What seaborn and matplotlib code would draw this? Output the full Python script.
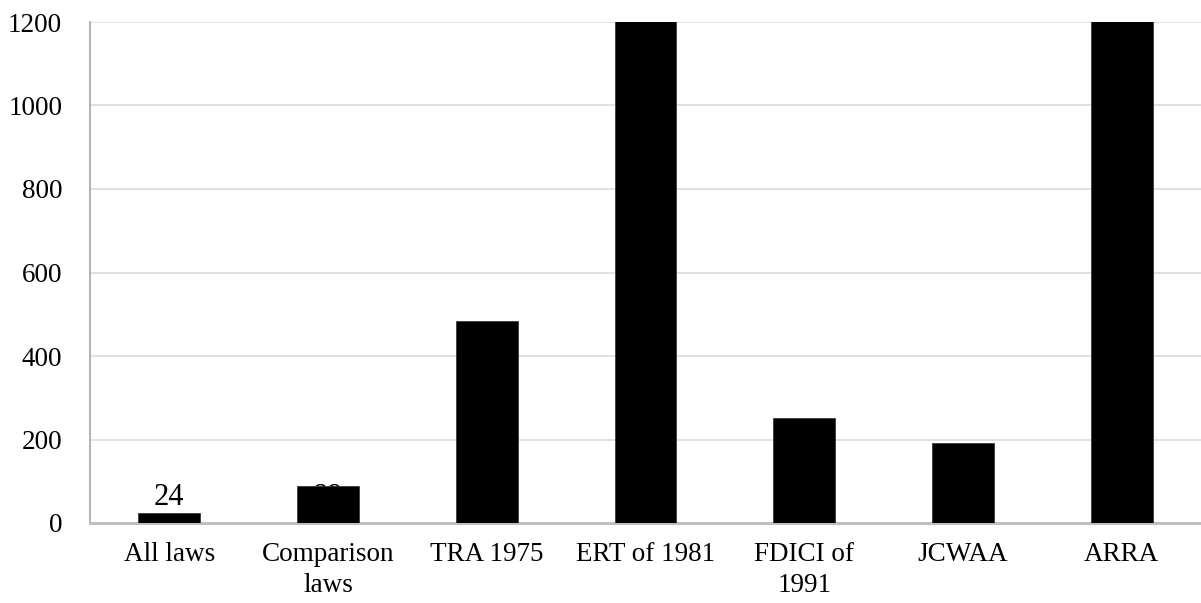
import matplotlib
matplotlib.use("Agg")
import matplotlib.pyplot as plt
import seaborn as sns
import pandas as pd

# Data
categories = ["All laws", "Comparison\nlaws", "TRA 1975", "ERT of 1981",
              "FDICI of\n1991", "JCWAA", "ARRA"]
values = [24, 89, 484, 1350, 251, 192, 1300]
value_labels = ["24", "89"]          # labels drawn for the first two bars
y_ticks = [0, 200, 400, 600, 800, 1000, 1200]

sns.set_theme(style="white")
plt.rcParams["font.family"] = ["Liberation Serif", "DejaVu Serif"]

fig = plt.figure(figsize=(12.01, 6.03), dpi=100)
ax = fig.add_axes([90 / 1201, 80 / 603, 1 - 90 / 1201, (523 - 22) / 603])

df = pd.DataFrame({"category": categories, "value": values})
sns.barplot(data=df, x="category", y="value", color="black", width=0.39,
            saturation=1, ax=ax, zorder=3, edgecolor="#3a3a3a", linewidth=0.6)

ax.set_xlim(-0.5, len(categories) - 0.5)
ax.set_ylim(0, 1200)
ax.set_yticks(y_ticks)
ax.set_yticklabels([str(t) for t in y_ticks])
ax.grid(axis="y", color="#dcdcdc", linewidth=1.2, zorder=0)
ax.set_axisbelow(True)

for side in ["top", "right"]:
    ax.spines[side].set_visible(False)
ax.spines["left"].set_color("#a6a6a6")
ax.spines["left"].set_linewidth(1.2)
ax.spines["bottom"].set_color("#bfbfbf")
ax.spines["bottom"].set_linewidth(2.2)

ax.tick_params(axis="both", length=0, labelsize=19.5, colors="black")
ax.tick_params(axis="y", pad=20)
ax.tick_params(axis="x", pad=14)
for lbl in ax.get_xticklabels():
    lbl.set_linespacing(1.3)
ax.set_xlabel("")
ax.set_ylabel("")

# value labels sit at a fixed height; the second is tucked behind its bar
for i, txt in enumerate(value_labels):
    ax.text(i, 42, txt, ha="center", va="baseline", fontsize=22,
            color="black", zorder=2)

fig.savefig("out.png", dpi=100)
